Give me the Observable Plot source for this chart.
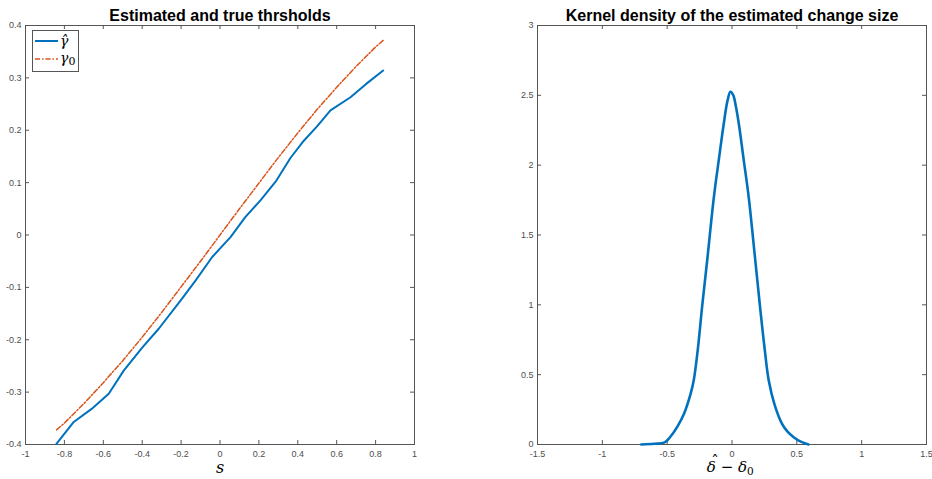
<!DOCTYPE html>
<html><head><meta charset="utf-8">
<script src="https://cdn.jsdelivr.net/npm/d3@7"></script>
<script src="https://cdn.jsdelivr.net/npm/@observablehq/plot@0.6"></script>
<style>
body{margin:0;background:#fff;}
#wrap{position:relative;width:932px;height:479px;overflow:hidden;}
.panel{position:absolute;top:0;}
.legend{position:absolute;left:32px;top:30px;}
</style></head><body><div id="wrap"></div>
<script>
// ---- Left panel data ----
const hatS   = [-0.841,-0.752,-0.66,-0.572,-0.495,-0.40,-0.315,-0.20,-0.126,-0.04,0.054,0.13,0.208,0.29,0.362,0.431,0.50,0.568,0.671,0.75,0.839];
const hatG   = [-0.399,-0.357,-0.332,-0.303,-0.259,-0.215,-0.179,-0.124,-0.087,-0.042,-0.004,0.034,0.066,0.104,0.147,0.180,0.208,0.238,0.263,0.288,0.314];
const trueS  = [-0.84,-0.8,-0.7,-0.6,-0.5,-0.4,-0.3,-0.2,-0.1,0,0.1,0.2,0.3,0.4,0.5,0.6,0.7,0.8,0.84];
const trueG  = [-0.372,-0.359,-0.322,-0.282,-0.240,-0.195,-0.148,-0.099,-0.050,0,0.050,0.099,0.148,0.195,0.240,0.282,0.322,0.359,0.372];
const leftXTicks = [-1,-0.8,-0.6,-0.4,-0.2,0,0.2,0.4,0.6,0.8,1];
const leftYTicks = [-0.4,-0.3,-0.2,-0.1,0,0.1,0.2,0.3,0.4];
const leftTitle = "Estimated and true thrsholds";

// ---- Right panel data ----
const dX = [-0.70,-0.60,-0.52,-0.48,-0.42,-0.37,-0.32,-0.295,-0.265,-0.23,-0.19,-0.14,-0.10,-0.063,-0.035,-0.012,0.01,0.03,0.052,0.09,0.129,0.175,0.219,0.25,0.283,0.33,0.386,0.43,0.476,0.53,0.59];
const dY = [0,0.005,0.015,0.05,0.13,0.22,0.36,0.46,0.67,0.99,1.33,1.77,2.05,2.30,2.46,2.525,2.50,2.42,2.30,2.04,1.77,1.36,0.96,0.70,0.46,0.28,0.148,0.09,0.052,0.02,0];
const rightXTicks = [-1.5,-1,-0.5,0,0.5,1,1.5];
const rightYTicks = [0,0.5,1,1.5,2,2.5,3];
const rightTitle = "Kernel density of the estimated change size";

const BLUE = "#0072BD", RED = "#D95319", AX = "#555";
const W = 466, H = 479, MT = 25, MB = 35;
const FH = H - MT - MB; // 419
const SERIF = "'DejaVu Serif', serif";

function frameTicks(xt, yt, fw) {
  const f = d => String(d);
  return [
    Plot.frame({stroke: AX, strokeWidth: 1}),
    Plot.ruleX(xt, {x: d => d, insetTop: FH - 4, stroke: AX}),
    Plot.ruleX(xt, {x: d => d, insetBottom: FH - 4, stroke: AX}),
    Plot.ruleY(yt, {y: d => d, insetRight: fw - 4, stroke: AX}),
    Plot.ruleY(yt, {y: d => d, insetLeft: fw - 4, stroke: AX}),
    Plot.axisX(xt, {tickSize: 0, tickPadding: 6, fontSize: 9, color: "#4d4d4d", tickFormat: f, label: null}),
    Plot.axisY(yt, {tickSize: 0, tickPadding: 4, fontSize: 9, color: "#4d4d4d", tickFormat: f, label: null})
  ];
}

const hatData = hatS.map((s, i) => ({s, g: hatG[i]}));
const trueData = trueS.map((s, i) => ({s, g: trueG[i]}));
const densData = dX.map((x, i) => ({x, y: dY[i]}));

const titleOpts = {text: d => d, frameAnchor: "top", lineAnchor: "middle", dy: -10, fontWeight: "bold", fontSize: 16, fill: "black"};

const leftML = 25, leftMR = 52;
const left = Plot.plot({
  width: W, height: H,
  marginLeft: leftML, marginRight: leftMR, marginTop: MT, marginBottom: MB,
  style: {fontFamily: "'Liberation Sans', Arial, sans-serif", background: "white", overflow: "visible"},
  x: {domain: [-1, 1], axis: null},
  y: {domain: [-0.4, 0.4], axis: null},
  marks: [
    ...frameTicks(leftXTicks, leftYTicks, W - leftML - leftMR),
    Plot.line(trueData, {x: "s", y: "g", stroke: RED, strokeWidth: 1.5, strokeDasharray: "5,2,1.5,2"}),
    Plot.line(hatData, {x: "s", y: "g", stroke: BLUE, strokeWidth: 2}),
    Plot.text([leftTitle], titleOpts),
    Plot.text(["s"], {text: d => d, frameAnchor: "bottom", lineAnchor: "middle", dy: 23, fontStyle: "italic", fontFamily: SERIF, fontSize: 16, fill: "black"})
  ]
});

const rightML = 71, rightMR = 6;
const right = Plot.plot({
  width: W, height: H,
  marginLeft: rightML, marginRight: rightMR, marginTop: MT, marginBottom: MB,
  style: {fontFamily: "'Liberation Sans', Arial, sans-serif", background: "white", overflow: "visible"},
  x: {domain: [-1.5, 1.5], axis: null},
  y: {domain: [0, 3], axis: null},
  marks: [
    ...frameTicks(rightXTicks, rightYTicks, W - rightML - rightMR),
    Plot.line(densData, {x: "x", y: "y", stroke: BLUE, strokeWidth: 2.6, curve: "catmull-rom"}),
    Plot.text([rightTitle], titleOpts),
    // x label: δ̂ − δ0 built from parts
    Plot.text(["δ − δ"], {text: d => d, frameAnchor: "bottom", lineAnchor: "middle", textAnchor: "end", dx: 15, dy: 23, fontStyle: "italic", fontFamily: SERIF, fontSize: 15, fill: "black"}),
    Plot.text(["ˆ"], {text: d => d, frameAnchor: "bottom", lineAnchor: "middle", dx: -17, dy: 17, fontFamily: SERIF, fontSize: 15, fill: "black"}),
    Plot.text(["0"], {text: d => d, frameAnchor: "bottom", lineAnchor: "middle", textAnchor: "start", dx: 15, dy: 27, fontFamily: SERIF, fontSize: 10.5, fill: "black"})
  ]
});

const wrap = document.getElementById("wrap");
left.classList.add("panel"); left.style.left = "0px";
right.classList.add("panel"); right.style.left = "466px";
wrap.appendChild(left);
wrap.appendChild(right);

// Legend
const lg = document.createElement("div");
lg.className = "legend";
lg.innerHTML = `<svg width="47" height="42" xmlns="http://www.w3.org/2000/svg" style="display:block">
<rect x="0.5" y="0.5" width="46" height="41" fill="white" stroke="${AX}"/>
<line x1="3" y1="11" x2="26" y2="11" stroke="${BLUE}" stroke-width="2"/>
<line x1="3" y1="29" x2="26" y2="29" stroke="${RED}" stroke-width="1.5" stroke-dasharray="5,2,1.5,2"/>
<text x="28" y="16" font-family="'DejaVu Serif', serif" font-size="14" font-style="italic">γ̂</text>
<text x="28" y="33" font-family="'DejaVu Serif', serif" font-size="14"><tspan font-style="italic">γ</tspan><tspan font-size="11" dy="2">0</tspan></text>
</svg>`;
wrap.appendChild(lg);
</script></body></html>
